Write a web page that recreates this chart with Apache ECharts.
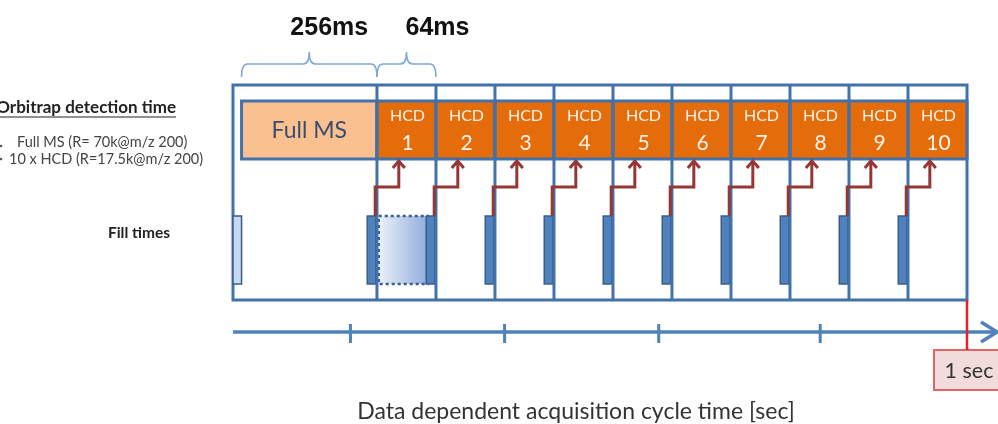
<!DOCTYPE html>
<html><head><meta charset="utf-8">
<script src="https://cdn.jsdelivr.net/npm/echarts@6/dist/echarts.min.js"></script>
<style>html,body{margin:0;padding:0;background:#fff}#c{width:998px;height:424px}</style>
</head><body><div id="c"></div>
<script>
// ---------------- data ----------------
const hcdScans = [1, 2, 3, 4, 5, 6, 7, 8, 9, 10];
const fullMsLabel = 'Full MS';
const scanTypeLabel = 'HCD';
const scanDurations = ['256ms', '64ms'];
const fullMsSlotWidth = 2.44;            // drawn width of the Full MS slot, in HCD-slot units (diagram is not to scale)
const timelineTicksSec = [0.16, 0.37, 0.58, 0.80];
const cycleEndSec = 1;
const cycleEndLabel = '1 sec';
const axisTitle = 'Data dependent acquisition cycle time [sec]';
const rowTitle = 'Orbitrap detection time';
const rowItems = ['Full MS (R= 70k@m/z 200)', '10 x HCD (R=17.5k@m/z 200)'];
const fillLabel = 'Fill times';

// ---------------- layout / style ----------------
const BLUE = '#4372AA', FILL = '#4F81BD', FILLB = '#385D8A', ORANGE = '#E46C0A', PEACH = '#FAC090';
const RED_ARROW = '#953735', AXIS = '#4F81BD', BRACE = '#7FA6D6';
const Y = {frameTop: 0, frameBot: 215, boxTop: 16, boxBot: 74, fillTop: 131, fillBot: 199,
  elbow: 102, tip: 76, axis: 247, labelTop: 265, labelBot: 305, braceEnd: -8, braceBar: -21, braceTip: -33, braceText: -57};
const FILLW = 0.145;
const FONT = 'Lato, "Open Sans", sans-serif';

const chart = echarts.init(document.getElementById('c'), null, {renderer: 'canvas'});

const scansData = [[-fullMsSlotWidth + FILLW, 0]].concat(hcdScans.map(i => [i - 1, i]));
const boundaries = hcdScans.map(i => i - 1);
const braceData = [[-fullMsSlotWidth + FILLW, 0], [0, 1]];

function txt(x, y, text, font, fill, align) {
  return {type: 'text', style: {x: x, y: y, text: text, font: font, fill: fill,
    align: align || 'center', verticalAlign: 'middle', textAlign: align || 'center', textVerticalAlign: 'middle'}};
}

const option = {
  animation: false,
  grid: {left: 233, right: 31, top: 85, bottom: 124},
  xAxis: [
    {type: 'value', min: -fullMsSlotWidth, max: hcdScans.length, show: false},
    {type: 'value', min: 0, max: cycleEndSec, show: false}
  ],
  yAxis: {type: 'value', min: 0, max: 215, inverse: true, show: false},
  graphic: [
    {type: 'text', style: {x: 176, y: 108, text: rowTitle, font: 'bold 17px ' + FONT, fill: '#222', align: 'right', verticalAlign: 'middle'}},
    {type: 'line', shape: {x1: -6, y1: 117, x2: 176, y2: 117}, style: {stroke: '#222', lineWidth: 1.2}},
    {type: 'circle', shape: {cx: 1, cy: 146, r: 1.3}, style: {fill: '#555'}},
    {type: 'circle', shape: {cx: 1, cy: 159, r: 1.3}, style: {fill: '#555'}},
    {type: 'text', style: {x: 17, y: 142, text: rowItems[0], font: '14.5px ' + FONT, fill: '#444', align: 'left', verticalAlign: 'middle'}},
    {type: 'text', style: {x: 9, y: 159, text: rowItems[1], font: '14.5px ' + FONT, fill: '#444', align: 'left', verticalAlign: 'middle'}},
    {type: 'text', style: {x: 139, y: 233, text: fillLabel, font: 'bold 15.5px ' + FONT, fill: '#222', align: 'center', verticalAlign: 'middle'}},
    {type: 'text', style: {x: 576, y: 412, text: axisTitle, font: '23px ' + FONT, fill: '#333', align: 'center', verticalAlign: 'middle'}}
  ],
  series: [
    { // outer frame
      type: 'custom', name: 'frame', z: 1, data: [[-fullMsSlotWidth, hcdScans.length]],
      renderItem: (p, api) => {
        const a = api.coord([api.value(0), Y.frameTop]), b = api.coord([api.value(1), Y.frameBot]);
        return {type: 'rect', shape: {x: a[0], y: a[1], width: b[0] - a[0], height: b[1] - a[1]},
          style: {fill: 'none', stroke: BLUE, lineWidth: 3}};
      }
    },
    { // detection boxes
      type: 'custom', name: 'scans', z: 2, data: scansData,
      renderItem: (p, api) => {
        const a = api.coord([api.value(0), Y.boxTop]), b = api.coord([api.value(1), Y.boxBot]);
        const full = p.dataIndex === 0;
        const cx = (a[0] + b[0]) / 2;
        const children = [{type: 'rect', shape: {x: a[0], y: a[1], width: b[0] - a[0], height: b[1] - a[1]},
          style: {fill: full ? PEACH : ORANGE, stroke: BLUE, lineWidth: 3}}];
        if (full) {
          children.push(txt(cx, (a[1] + b[1]) / 2 + 1, fullMsLabel, '23px ' + FONT, '#3A4D6F'));
        } else {
          children.push(txt(cx + 1, a[1] + 15, scanTypeLabel, '16px ' + FONT, '#FFF3E8'));
          children.push(txt(cx + 1, a[1] + 42, String(hcdScans[p.dataIndex - 1]), '21px ' + FONT, '#FFF3E8'));
        }
        return {type: 'group', children: children};
      }
    },
    { // fill-time bars
      type: 'custom', name: 'fills', z: 3, data: [[-fullMsSlotWidth]].concat(boundaries.map(b => [b])),
      renderItem: (p, api) => {
        const b = api.value(0);
        const first = p.dataIndex === 0;
        const x0 = first ? b : b - 0.165, x1 = first ? b + FILLW : b - 0.02;
        const a = api.coord([x0, Y.fillTop]), c = api.coord([x1, Y.fillBot]);
        const children = [{type: 'rect', shape: {x: a[0], y: a[1], width: c[0] - a[0], height: c[1] - a[1]},
          style: {fill: first ? '#C6D9F1' : FILL, stroke: FILLB, lineWidth: 1.5}}];
        if (p.dataIndex === 1) { // parallel fill shown during HCD 1
          const d0 = api.coord([b + 0.03, Y.fillTop]), d1 = api.coord([b + 0.86, Y.fillBot]);
          children.push({type: 'rect', shape: {x: d0[0], y: d0[1], width: d1[0] - d0[0], height: d1[1] - d0[1]},
            style: {fill: new echarts.graphic.LinearGradient(0, 0, 1, 0, [{offset: 0, color: '#EEF2FA'}, {offset: 1, color: '#8EAADB'}]),
              stroke: FILLB, lineWidth: 2.5, lineDash: [3, 3]}});
        }
        return {type: 'group', children: children};
      }
    },
    { // slot boundaries
      type: 'custom', name: 'slots', z: 4, data: boundaries.map(b => [b]),
      renderItem: (p, api) => {
        const a = api.coord([api.value(0), Y.frameTop]), b = api.coord([api.value(0), Y.frameBot]);
        return {type: 'line', shape: {x1: a[0], y1: a[1], x2: b[0], y2: b[1]}, style: {stroke: BLUE, lineWidth: 3}};
      }
    },
    { // trigger arrows fill -> detection
      type: 'custom', name: 'arrows', z: 5, data: boundaries.map(b => [b]),
      renderItem: (p, api) => {
        const b = api.value(0);
        const s = api.coord([b - 0.03, Y.fillTop]), e = api.coord([b - 0.03, Y.elbow]);
        const h = api.coord([b + 0.37, Y.elbow]), t = api.coord([b + 0.37, Y.tip]);
        return {type: 'group', children: [
          {type: 'polyline', shape: {points: [s, e, h, t]}, style: {stroke: RED_ARROW, lineWidth: 3, fill: null}},
          {type: 'polyline', shape: {points: [[t[0] - 6, t[1] + 7], t, [t[0] + 6, t[1] + 7]]},
            style: {stroke: RED_ARROW, lineWidth: 3, fill: null}}
        ]};
      }
    },
    { // duration braces
      type: 'custom', name: 'braces', z: 5, data: braceData,
      renderItem: (p, api) => {
        const x0 = api.coord([api.value(0), Y.braceEnd])[0], x1 = api.coord([api.value(1), Y.braceEnd])[0];
        const ye = api.coord([0, Y.braceEnd])[1], yb = api.coord([0, Y.braceBar])[1], yt = api.coord([0, Y.braceTip])[1];
        const xm = (x0 + x1) / 2, r = 6;
        const d = `M${x0},${ye} Q${x0},${yb} ${x0 + r},${yb} L${xm - r},${yb} Q${xm},${yb} ${xm},${yt} Q${xm},${yb} ${xm + r},${yb} L${x1 - r},${yb} Q${x1},${yb} ${x1},${ye}`;
        const yText = api.coord([0, Y.braceText])[1];
        const tx = p.dataIndex === 0 ? xm + 20 : xm + 31;
        return {type: 'group', children: [
          {type: 'path', shape: {pathData: d}, style: {stroke: BRACE, lineWidth: 1.6, fill: null}},
          txt(tx, yText, scanDurations[p.dataIndex], 'bold 25px "Liberation Sans", Arial, sans-serif', '#111')
        ]};
      }
    },
    { // cycle-time axis
      type: 'custom', name: 'timeline', z: 6, xAxisIndex: 1, data: [[0, cycleEndSec]],
      renderItem: (p, api) => {
        const s = api.coord([api.value(0), Y.axis]), e = api.coord([api.value(1), Y.axis]);
        const end = e[0] + 30;
        const ch = [
          {type: 'line', shape: {x1: s[0], y1: s[1], x2: end - 1, y2: s[1]}, style: {stroke: AXIS, lineWidth: 3.5}},
          {type: 'polyline', shape: {points: [[end - 16, s[1] - 10], [end, s[1]], [end - 16, s[1] + 10]]},
            style: {stroke: AXIS, lineWidth: 3.5, fill: null}}
        ];
        timelineTicksSec.forEach(t => {
          const c = api.coord([t, Y.axis]);
          ch.push({type: 'line', shape: {x1: c[0], y1: c[1] - 8, x2: c[0], y2: c[1] + 11}, style: {stroke: AXIS, lineWidth: 3}});
        });
        const rt = api.coord([api.value(1), Y.frameBot]), rb = api.coord([api.value(1), Y.labelTop]);
        const lb = api.coord([api.value(1), Y.labelBot]);
        ch.push({type: 'rect', shape: {x: rb[0] - 33, y: rb[1], width: 80, height: lb[1] - rb[1]},
          style: {fill: '#F2DCDB', stroke: '#E06666', lineWidth: 2}});
        ch.push({type: 'line', shape: {x1: rt[0], y1: rt[1], x2: rb[0], y2: rb[1]}, style: {stroke: '#E8202A', lineWidth: 2.5}});
        ch.push(txt(rb[0] + 2, (rb[1] + lb[1]) / 2 + 1, cycleEndLabel, '21.5px ' + FONT, '#333'));
        return {type: 'group', children: ch};
      }
    }
  ]
};
chart.setOption(option);
</script></body></html>
